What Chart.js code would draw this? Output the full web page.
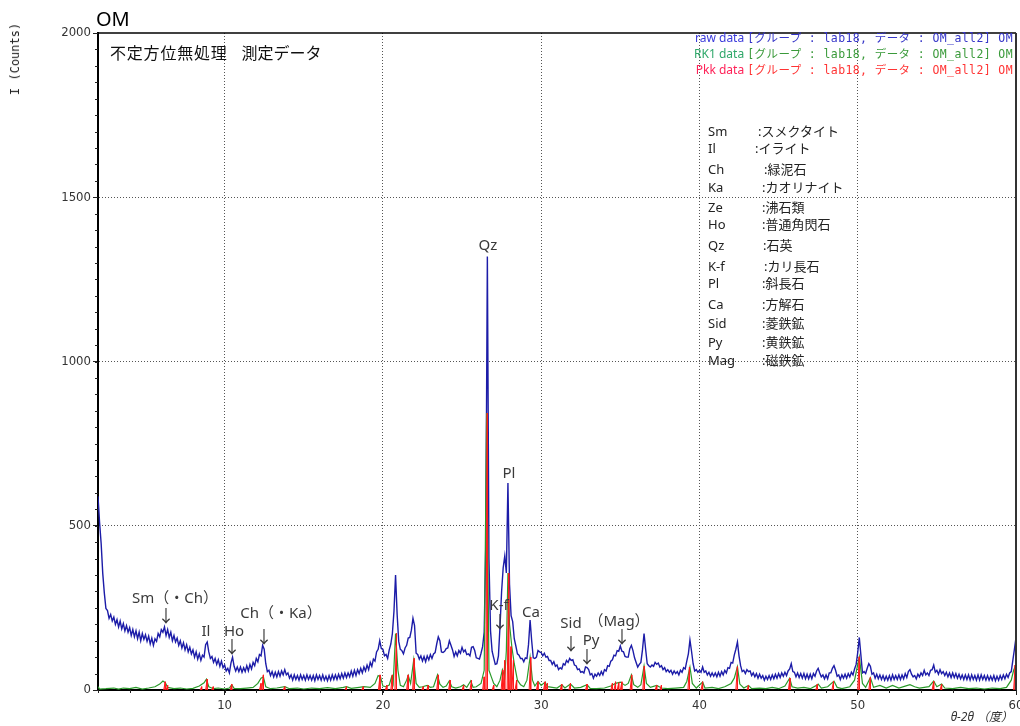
<!DOCTYPE html>
<html>
<head>
<meta charset="utf-8">
<script src="https://cdn.jsdelivr.net/npm/chart.js@4.4.0/dist/chart.umd.min.js"></script>
<style>
body { margin: 0; background: #fff; }
#wrap { position: relative; width: 1020px; height: 726px; overflow: hidden; font-family: 'Noto Sans', 'Noto Sans CJK JP', sans-serif; }
#chart { position: absolute; left: 0; top: 0; }
.t { position: absolute; white-space: nowrap; line-height: 1; }
.c { transform: translate(-50%, -50%); }
.lbl { font-size: 15px; color: #3a3a3a; }
.arr { font-size: 17px; color: #3a3a3a; font-family: 'Noto Sans CJK JP', sans-serif; }
.leg { right: 7px; font-size: 12px; }
.leg .m { font-family: 'DejaVu Sans Mono', 'Noto Sans CJK JP', monospace; font-size: 11.5px; letter-spacing: 0.4px; }
.min { font-size: 13px; color: #222; font-family: 'Noto Sans', 'Noto Sans CJK JP', sans-serif; }
</style>
</head>
<body>
<div id="wrap">
  <canvas id="chart" width="1020" height="726"></canvas>

  <div class="t" style="left:96px;top:9px;font-size:20px;color:#000">OM</div>
  <div class="t" style="left:110px;top:45px;font-size:16px;color:#111"><span style="letter-spacing:0.8px">不定方位無処理</span><span style="margin-left:14px">測定データ</span></div>
  <div class="t c" style="left:15px;top:59px;font-size:12px;color:#222;font-family:'DejaVu Sans Mono',monospace;transform:translate(-50%,-50%) rotate(-90deg)">I (Counts)</div>
  <div class="t" style="right:7px;top:711px;font-size:12px;color:#333;font-style:italic">θ-2θ （度）</div>

  <div class="t leg" style="top:32px"><span style="color:#3a3adb">raw data </span><span class="m" style="color:#3535c8">[グループ : lab18, データ : OM_all2] OM</span></div>
  <div class="t leg" style="top:48px"><span style="color:#2fa86a">RK1 data </span><span class="m" style="color:#3a9a3a">[グループ : lab18, データ : OM_all2] OM</span></div>
  <div class="t leg" style="top:64px"><span style="color:#ff2258">Pkk data </span><span class="m" style="color:#ff3333">[グループ : lab18, データ : OM_all2] OM</span></div>

  <div class="t min" style="left:708px;top:125px">Sm</div><div class="t min" style="left:758px;top:125px">:スメクタイト</div>
  <div class="t min" style="left:708px;top:142px">Il</div><div class="t min" style="left:755px;top:142px">:イライト</div>
  <div class="t min" style="left:708px;top:163px">Ch</div><div class="t min" style="left:764px;top:163px">:緑泥石</div>
  <div class="t min" style="left:708px;top:181px">Ka</div><div class="t min" style="left:762px;top:181px">:カオリナイト</div>
  <div class="t min" style="left:708px;top:201px">Ze</div><div class="t min" style="left:762px;top:201px">:沸石類</div>
  <div class="t min" style="left:708px;top:218px">Ho</div><div class="t min" style="left:762px;top:218px">:普通角閃石</div>
  <div class="t min" style="left:708px;top:239px">Qz</div><div class="t min" style="left:763px;top:239px">:石英</div>
  <div class="t min" style="left:708px;top:260px">K-f</div><div class="t min" style="left:764px;top:260px">:カリ長石</div>
  <div class="t min" style="left:708px;top:277px">Pl</div><div class="t min" style="left:762px;top:277px">:斜長石</div>
  <div class="t min" style="left:708px;top:298px">Ca</div><div class="t min" style="left:762px;top:298px">:方解石</div>
  <div class="t min" style="left:708px;top:317px">Sid</div><div class="t min" style="left:762px;top:317px">:菱鉄鉱</div>
  <div class="t min" style="left:708px;top:336px">Py</div><div class="t min" style="left:762px;top:336px">:黄鉄鉱</div>
  <div class="t min" style="left:708px;top:354px">Mag</div><div class="t min" style="left:762px;top:354px">:磁鉄鉱</div>

  <div class="t c lbl" style="left:175px;top:597px">Sm（・Ch）</div>
  <div class="t c arr" style="left:166px;top:614px">↓</div>
  <div class="t c lbl" style="left:206px;top:630px">Il</div>
  <div class="t c lbl" style="left:234px;top:630px">Ho</div>
  <div class="t c arr" style="left:232px;top:645px">↓</div>
  <div class="t c lbl" style="left:281px;top:612px">Ch（・Ka）</div>
  <div class="t c arr" style="left:264px;top:635px">↓</div>
  <div class="t c lbl" style="left:488px;top:244px">Qz</div>
  <div class="t c lbl" style="left:509px;top:472px">Pl</div>
  <div class="t c lbl" style="left:499px;top:604px">K-f</div>
  <div class="t c arr" style="left:500px;top:620px">↓</div>
  <div class="t c lbl" style="left:531px;top:611px">Ca</div>
  <div class="t c lbl" style="left:571px;top:622px">Sid</div>
  <div class="t c arr" style="left:571px;top:642px">↓</div>
  <div class="t c lbl" style="left:591px;top:639px">Py</div>
  <div class="t c arr" style="left:587px;top:655px">↓</div>
  <div class="t c lbl" style="left:619px;top:620px">（Mag）</div>
  <div class="t c arr" style="left:622px;top:635px">↓</div>
</div>

<script>
// 2theta scan, 2..60 deg, 0.1 deg step
var rawStart = 2, rawStep = 0.1;
var rawCounts = [
  590, 510, 445, 355, 295, 248, 242, 218, 230, 210,
  222, 200, 214, 192, 210, 186, 202, 180, 196, 176,
  190, 166, 184, 162, 180, 156, 176, 150, 172, 154,
  168, 148, 164, 140, 158, 136, 156, 148, 172, 162,
  184, 176, 192, 166, 184, 160, 176, 150, 166, 146,
  158, 136, 150, 128, 144, 122, 138, 116, 130, 110,
  122, 100, 116, 94, 110, 90, 106, 100, 138, 146,
  116, 96, 102, 84, 96, 78, 92, 72, 88, 68,
  76, 58, 66, 52, 82, 100, 72, 58, 70, 56,
  70, 54, 68, 56, 74, 58, 78, 64, 84, 74,
  96, 86, 108, 104, 136, 124, 80, 56, 60, 44,
  56, 40, 54, 40, 56, 42, 58, 46, 62, 46,
  52, 36, 46, 30, 46, 32, 44, 30, 46, 32,
  44, 30, 46, 32, 44, 30, 44, 28, 46, 32,
  44, 30, 46, 30, 42, 28, 44, 30, 46, 32,
  46, 32, 48, 34, 50, 36, 52, 38, 52, 40,
  58, 42, 60, 44, 62, 50, 66, 52, 70, 58,
  76, 62, 84, 72, 94, 88, 116, 124, 150, 126,
  124, 104, 108, 96, 122, 140, 172, 240, 350, 230,
  148, 124, 120, 110, 128, 136, 158, 160, 182, 218,
  196, 112, 108, 94, 104, 88, 102, 86, 104, 92,
  108, 96, 110, 114, 140, 162, 150, 116, 114, 118,
  126, 128, 150, 136, 122, 102, 116, 104, 120, 112,
  130, 116, 122, 108, 110, 104, 130, 132, 120, 98,
  96, 94, 112, 132, 176, 440, 1320, 400, 180, 118,
  98, 78, 80, 104, 194, 300, 372, 408, 356, 630,
  322, 226, 208, 156, 134, 110, 106, 96, 96, 86,
  98, 96, 138, 213, 150, 98, 96, 100, 120, 116,
  114, 104, 112, 100, 102, 90, 90, 78, 86, 72,
  76, 62, 68, 64, 80, 76, 90, 84, 96, 90,
  92, 76, 74, 62, 64, 54, 56, 52, 70, 68,
  62, 46, 50, 36, 48, 42, 52, 44, 56, 46,
  62, 58, 74, 72, 88, 92, 106, 104, 120, 118,
  134, 118, 116, 102, 100, 100, 126, 136, 120, 98,
  84, 70, 78, 84, 122, 172, 124, 80, 74, 70,
  76, 72, 84, 78, 82, 70, 74, 62, 68, 56,
  62, 54, 60, 48, 58, 50, 56, 46, 60, 54,
  68, 64, 88, 110, 152, 118, 80, 58, 62, 54,
  60, 54, 70, 54, 58, 46, 54, 42, 52, 42,
  52, 40, 54, 42, 56, 46, 60, 52, 68, 66,
  84, 82, 106, 124, 146, 104, 74, 56, 60, 50,
  62, 56, 58, 44, 52, 40, 50, 36, 48, 36,
  44, 30, 42, 32, 44, 32, 46, 34, 48, 36,
  50, 38, 52, 42, 54, 44, 58, 64, 80, 56,
  54, 40, 52, 38, 50, 36, 50, 34, 48, 34,
  48, 34, 50, 42, 58, 66, 52, 40, 46, 34,
  46, 34, 52, 52, 66, 74, 60, 42, 46, 32,
  46, 36, 48, 36, 50, 40, 54, 46, 64, 78,
  114, 160, 106, 52, 56, 50, 66, 80, 72, 48,
  52, 36, 48, 34, 46, 32, 44, 30, 42, 30,
  44, 30, 46, 32, 44, 32, 46, 32, 46, 34,
  50, 38, 56, 62, 48, 40, 44, 34, 48, 40,
  52, 44, 60, 46, 52, 44, 60, 62, 76, 54,
  60, 48, 62, 50, 56, 44, 54, 40, 52, 38,
  52, 38, 50, 36, 48, 34, 46, 32, 46, 32,
  46, 30, 46, 32, 44, 30, 46, 30, 46, 32,
  44, 30, 44, 30, 42, 30, 44, 28, 42, 30,
  44, 32, 46, 34, 48, 38, 52, 56, 90, 124,
  160
];

// RK1 (smoothed / background removed) [2theta, counts]
var rk1 = [
  [2.0,10],[2.1,3],[2.5,4],[3.0,6],[3.3,3],[3.6,6],[4.0,4],[4.4,8],[4.8,3],[5.2,6],
  [5.6,10],[5.9,18],[6.1,27],[6.25,22],[6.4,8],[6.8,4],[7.2,6],[7.6,3],[8.0,5],[8.4,12],
  [8.7,22],[8.85,33],[9.0,10],[9.3,4],[9.6,6],[10.0,3],[10.3,6],[10.45,16],[10.6,5],[11.0,4],
  [11.4,6],[11.8,8],[12.1,20],[12.3,36],[12.45,40],[12.6,10],[12.9,4],[13.3,6],[13.8,10],[14.1,4],
  [14.6,6],[15.0,3],[15.5,6],[16.0,4],[16.5,7],[17.0,4],[17.5,8],[17.7,10],[18.0,5],[18.5,8],
  [18.8,10],[19.2,8],[19.5,20],[19.7,44],[19.85,40],[20.0,12],[20.2,10],[20.4,15],[20.55,40],[20.65,20],
  [20.8,172],[20.95,60],[21.1,14],[21.3,10],[21.5,30],[21.6,44],[21.75,20],[21.95,92],[22.1,20],[22.3,8],
  [22.5,10],[22.8,14],[23.0,8],[23.2,10],[23.45,46],[23.6,18],[23.8,8],[24.0,12],[24.2,28],[24.35,10],
  [24.6,6],[24.9,10],[25.1,16],[25.3,8],[25.55,28],[25.7,8],[25.9,10],[26.2,20],[26.4,60],[26.55,843],
  [26.7,60],[26.85,40],[27.0,20],[27.2,10],[27.4,30],[27.55,62],[27.7,40],[27.8,120],[27.9,356],[28.0,200],
  [28.15,130],[28.3,80],[28.5,30],[28.7,16],[28.9,10],[29.1,30],[29.3,100],[29.45,30],[29.6,12],[29.8,26],
  [30.0,14],[30.25,24],[30.4,10],[30.7,8],[31.0,6],[31.3,16],[31.5,6],[31.85,18],[32.1,6],[32.5,8],
  [32.9,16],[33.1,5],[33.5,4],[34.0,6],[34.4,12],[34.7,20],[35.0,24],[35.3,14],[35.5,20],[35.7,46],
  [35.85,16],[36.1,8],[36.3,16],[36.5,73],[36.65,20],[36.9,8],[37.3,14],[37.6,6],[38.0,4],[38.5,6],
  [39.0,8],[39.2,26],[39.4,70],[39.55,20],[39.8,6],[40.2,24],[40.35,6],[40.8,8],[41.2,4],[41.6,10],
  [42.0,20],[42.2,36],[42.4,71],[42.55,18],[42.8,6],[43.1,14],[43.3,4],[43.8,6],[44.2,4],[44.6,8],
  [45.0,4],[45.4,12],[45.7,36],[45.85,10],[46.2,6],[46.6,8],[47.0,4],[47.4,14],[47.5,18],[47.7,6],
  [48.1,10],[48.5,27],[48.7,8],[49.0,4],[49.5,10],[49.8,30],[50.1,101],[50.3,20],[50.5,8],[50.8,38],
  [51.0,8],[51.4,14],[51.8,6],[52.2,14],[52.6,6],[53.0,12],[53.3,16],[53.6,10],[53.9,6],[54.2,8],
  [54.5,10],[54.8,27],[55.0,10],[55.3,18],[55.5,6],[56.0,4],[56.5,8],[57.0,4],[57.5,6],[58.0,3],
  [58.5,6],[59.0,4],[59.4,8],[59.7,30],[59.85,60],[60.0,76]
];

// Pkk peak list [2theta, counts]
var pkk = [
  [6.25,25],[6.4,15],[8.55,10],[8.9,33],[9.28,10],[10.45,18],[12.3,20],[12.45,46],[13.8,10],[17.7,10],
  [18.76,10],[19.82,46],[20.25,15],[20.6,46],[20.86,172],[21.6,46],[21.98,96],[22.55,10],[22.87,15],[23.5,46],
  [24.25,30],[25.1,15],[25.6,30],[26.4,40],[26.6,843],[27.0,15],[27.57,61],[27.7,90],[27.95,356],[28.1,132],
  [28.25,91],[28.45,30],[29.34,100],[29.8,25],[30.25,25],[30.4,20],[31.3,18],[31.85,20],[32.9,18],[34.5,20],
  [34.7,25],[34.9,22],[35.1,25],[35.72,46],[36.52,73],[37.3,15],[37.6,15],[39.37,70],[40.2,25],[42.4,71],
  [43.1,15],[45.72,36],[47.45,18],[48.47,27],[50.1,101],[50.8,38],[54.8,27],[55.3,18],[59.95,76]
];

var xTicks = [10, 20, 30, 40, 50, 60];
var yTicks = [0, 500, 1000, 1500, 2000];

var rawData = rawCounts.map(function(c, i) {
  return { x: +(rawStart + i * rawStep).toFixed(1), y: c };
});
var rk1Data = rk1.map(function(p) { return { x: p[0], y: p[1] }; });
var pkkData = [];
pkk.forEach(function(p) {
  pkkData.push({ x: p[0] - 0.1, y: 0 });
  pkkData.push({ x: p[0], y: p[1] });
  pkkData.push({ x: p[0], y: 0 });
  pkkData.push({ x: p[0] + 0.001, y: null });
});

// minor ticks + top/right frame
var framePlugin = {
  id: 'frame',
  afterDraw: function(chart) {
    var ctx = chart.ctx, a = chart.chartArea;
    var xs = chart.scales.x, ys = chart.scales.y;
    ctx.save();
    ctx.strokeStyle = '#222';
    ctx.lineWidth = 1;
    ctx.beginPath();
    for (var v = 2; v <= 60; v += 2) {
      var px = Math.round(xs.getPixelForValue(v)) + 0.5;
      ctx.moveTo(px, a.bottom); ctx.lineTo(px, a.bottom + 3);
    }
    for (var w = 0; w <= 2000; w += 50) {
      var py = Math.round(ys.getPixelForValue(w)) + 0.5;
      ctx.moveTo(a.left - 3, py); ctx.lineTo(a.left, py);
    }
    ctx.stroke();
    ctx.strokeStyle = '#000';
    ctx.lineWidth = 1.5;
    ctx.beginPath();
    ctx.moveTo(a.left, a.top); ctx.lineTo(a.right, a.top);
    ctx.stroke();
    ctx.strokeStyle = '#333';
    ctx.lineWidth = 2;
    ctx.beginPath();
    ctx.moveTo(a.right, a.top); ctx.lineTo(a.right, a.bottom);
    ctx.stroke();
    ctx.restore();
  }
};

var tickFont = { family: "'Liberation Sans Narrow', 'DejaVu Sans Condensed', sans-serif", size: 13 };

new Chart(document.getElementById('chart'), {
  type: 'line',
  data: {
    datasets: [
      { label: 'Pkk data', data: pkkData, borderColor: '#ff1a1a', borderWidth: 1, backgroundColor: 'rgba(255,90,90,0.28)', fill: 'origin', pointRadius: 0, spanGaps: false, order: 1 },
      { label: 'RK1 data', data: rk1Data, borderColor: '#2a9a2a', borderWidth: 1.2, pointRadius: 0, fill: false, order: 2 },
      { label: 'raw data', data: rawData, borderColor: '#1c1ca8', borderWidth: 1.4, pointRadius: 0, fill: false, order: 3 }
    ]
  },
  options: {
    responsive: false,
    animation: false,
    layout: { padding: { left: 0, top: 33, right: 4, bottom: 0 } },
    plugins: { legend: { display: false }, tooltip: { enabled: false } },
    elements: { line: { tension: 0 } },
    scales: {
      x: {
        type: 'linear', min: 2, max: 60,
        afterBuildTicks: function(s) { s.ticks = xTicks.map(function(v) { return { value: v }; }); },
        afterFit: function(s) { s.height = 36; s.paddingLeft = 0; s.paddingRight = 0; },
        ticks: { font: tickFont, color: '#333', padding: 3, maxRotation: 0, callback: function(v) { return String(v); } },
        grid: {
          color: function(c) { return c.tick && c.tick.value === 60 ? 'rgba(0,0,0,0)' : '#555'; },
          tickColor: '#222', tickLength: 5, lineWidth: 1
        },
        border: { color: '#000', width: 2, dash: [1, 2] }
      },
      y: {
        min: 0, max: 2000,
        afterBuildTicks: function(s) { s.ticks = yTicks.map(function(v) { return { value: v }; }); },
        afterFit: function(s) { s.width = 98; s.paddingTop = 0; s.paddingBottom = 0; },
        ticks: { font: tickFont, color: '#333', padding: 2, callback: function(v) { return String(v); } },
        grid: {
          color: function(c) { return c.tick && (c.tick.value === 0 || c.tick.value === 2000) ? 'rgba(0,0,0,0)' : '#555'; },
          tickColor: '#222', tickLength: 5, lineWidth: 1
        },
        border: { color: '#000', width: 2, dash: [1, 2] }
      }
    }
  },
  plugins: [framePlugin]
});
</script>
</body>
</html>
